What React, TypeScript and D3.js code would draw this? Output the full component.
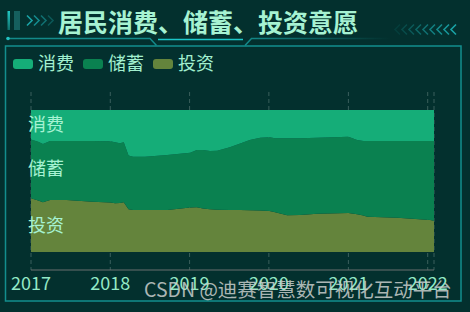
import React from 'react';
import * as d3 from 'd3';

const dates = [
  '2017-01-01', '2017-02-03', '2017-02-25', '2017-03-22', '2017-03-30', '2017-06-14', '2017-10-12',
  '2018-01-01', '2018-01-23', '2018-02-14', '2018-03-04', '2018-03-26', '2018-04-16', '2018-06-10', '2018-09-20',
  '2019-01-04', '2019-02-03', '2019-03-04', '2019-04-05', '2019-05-08', '2019-07-05', '2019-08-22', '2019-10-05', '2019-11-22',
  '2020-01-04', '2020-01-30', '2020-03-25', '2020-05-23', '2020-08-11',
  '2021-01-01', '2021-02-10', '2021-03-11', '2021-03-29', '2021-08-15',
  '2022-01-12', '2022-01-30',
];
const consumption = [
  20.7, 22.3, 23.9, 22.3, 21.9, 21.9, 21.9,
  22.0, 22.7, 23.5, 22.7, 32.0, 32.9, 32.9, 31.7,
  30.1, 28.2, 28.2, 28.9, 28.7, 26.3, 23.6, 21.1, 19.5,
  19.2, 19.9, 19.9, 19.9, 19.6,
  18.8, 21.1, 21.8, 21.8, 21.8,
  21.8, 21.8,
];
const savings = [
  41.5, 41.4, 41.1, 41.4, 41.5, 41.5, 42.7,
  43.1, 43.0, 42.0, 42.3, 37.9, 37.5, 37.5, 38.7,
  38.6, 40.3, 41.2, 41.0, 41.5, 44.1, 46.8, 49.5, 51.3,
  51.9, 52.1, 54.3, 54.0, 53.4,
  53.7, 52.4, 52.5, 53.3, 54.0,
  55.7, 56.2,
];
const investment = [
  37.8, 36.3, 35.0, 36.3, 36.6, 36.6, 35.4,
  34.9, 34.3, 34.5, 35.0, 30.1, 29.6, 29.6, 29.6,
  31.3, 31.5, 30.6, 30.1, 29.8, 29.6, 29.6, 29.4, 29.2,
  28.9, 28.0, 25.8, 26.1, 27.0,
  27.5, 26.5, 25.7, 24.9, 24.2,
  22.5, 22.0,
];
const seriesNames = ['消费', '储蓄', '投资'];
const seriesColors = ['#15ad78', '#0a8150', '#64843c'];
const titleText = '居民消费、储蓄、投资意愿';
const watermark = 'CSDN @迪赛智慧数可视化互动平台';

const FONT = '"Noto Sans CJK SC", "Noto Sans", sans-serif';

export default function App() {
  const W = 470, H = 312;
  const x0 = 31, x1 = 434, yTop = 110, yBot = 252, gridTop = 92, axisY = 270;
  const parse = d3.timeParse('%Y-%m-%d');
  const rows = dates.map((d, i) => ({
    date: parse(d) as Date,
    消费: consumption[i],
    储蓄: savings[i],
    投资: investment[i],
  }));
  const x = d3.scaleTime().domain(d3.extent(rows, (d) => d.date) as [Date, Date]).range([x0, x1]);
  const y = d3.scaleLinear().domain([0, 100]).range([yBot, yTop]);
  const stackKeys = ['投资', '储蓄', '消费'];
  const stacked = d3.stack<any>().keys(stackKeys)(rows);
  const area = d3.area<any>()
    .x((d) => x(d.data.date))
    .y0((d) => y(d[0]))
    .y1((d) => y(d[1]));
  const colorOf = (k: string) => seriesColors[seriesNames.indexOf(k)];
  const yearTicks = x.ticks(d3.timeYear.every(1) as any);
  const fmt = d3.timeFormat('%Y');
  const gridXs = [...yearTicks.map((t) => x(t)), x1];

  const leftChevrons = [0, 1, 2, 3];
  const rightChevrons = [0, 1, 2, 3, 4, 5, 6, 7, 8];

  return (
    <svg width={W} height={H} style={{ position: 'absolute', left: 0, top: 0 }} fontFamily={FONT}>
      <defs>
        <linearGradient id="barg" x1="0" y1="0" x2="0" y2="1">
          <stop offset="0" stopColor="#22c8c4" />
          <stop offset="1" stopColor="#0f6f6c" />
        </linearGradient>
        <linearGradient id="rline" x1="0" y1="0" x2="1" y2="0">
          <stop offset="0" stopColor="#138a8a" stopOpacity="1" />
          <stop offset="1" stopColor="#138a8a" stopOpacity="0" />
        </linearGradient>
      </defs>
      <rect x={0} y={0} width={W} height={H} fill="#03302e" />

      {/* frame */}
      <rect x={5.5} y={46} width={455.5} height={255} fill="none" stroke="#138e8e" strokeWidth={1.5} />
      <path d="M8,38.5 L150,38.5 L156.5,45.5" fill="none" stroke="#138a8a" strokeWidth={1.5} />
      <circle cx={8} cy={38.5} r={1.8} fill="#22c2c2" />
      <path d="M245,45.5 L251.5,38.5 L390,38.5" fill="none" stroke="url(#rline)" strokeWidth={1.5} />
      <line x1={158} y1={39.5} x2={243} y2={39.5} stroke="#1cc6c8" strokeWidth={1.5} />

      {/* title decorations */}
      <rect x={7.5} y={11} width={2.5} height={19} fill="url(#barg)" />
      <rect x={14} y={11} width={6} height={19} fill="#155f5e" />
      {leftChevrons.map((i) => (
        <path key={'lc' + i} d={`M${27 + i * 7},15.5 L${32 + i * 7},20.5 L${27 + i * 7},25.5`}
          fill="none" stroke="#1aa3a6" strokeWidth={1.6} opacity={1 - i * 0.22} />
      ))}
      {rightChevrons.map((i) => (
        <path key={'rc' + i} d={`M${400 + i * 7},24.5 L${395 + i * 7},29.5 L${400 + i * 7},34.5`}
          fill="none" stroke="#1aa3a6" strokeWidth={1.6} opacity={0.12 + i * 0.11} />
      ))}
      <text x={58} y={32} fontSize={25} fontWeight="bold" fill="#a6f2d2">{titleText}</text>

      {/* legend */}
      {seriesNames.map((n, i) => (
        <g key={'lg' + n} transform={`translate(${13 + i * 70},0)`}>
          <rect x={0} y={59} width={20} height={10} rx={3} fill={seriesColors[i]} />
          <text x={25} y={70} fontSize={18} fill="#a2efcf">{n}</text>
        </g>
      ))}

      {/* grid */}
      {gridXs.map((gx, i) => (
        <line key={'g' + i} x1={gx} x2={gx} y1={gridTop} y2={axisY} stroke="#3a5f5c" strokeWidth={1} strokeDasharray="4,3" />
      ))}

      {/* areas */}
      {stacked.map((s) => (
        <path key={s.key} d={area(s as any) as string} fill={colorOf(s.key)} />
      ))}

      {/* axis */}
      <line x1={x0} x2={x1} y1={axisY} y2={axisY} stroke="#6a6e6e" strokeWidth={1} />
      {yearTicks.map((t, i) => (
        <text key={'t' + i} x={x(t)} y={290} fontSize={18} textAnchor="middle" fill="#93e9c6">{fmt(t)}</text>
      ))}

      {/* area labels at first point */}
      {stacked.map((s) => {
        const p = s[0];
        const cy = (y(p[0]) + y(p[1])) / 2 - 1.5;
        return (
          <text key={'al' + s.key} x={28} y={cy} fontSize={18} dominantBaseline="central" fill="#a6f2d2">{s.key}</text>
        );
      })}

      <text x={144} y={297} fontSize={19.5} fill="#c9cecc" opacity={0.85}>{watermark}</text>
    </svg>
  );
}
